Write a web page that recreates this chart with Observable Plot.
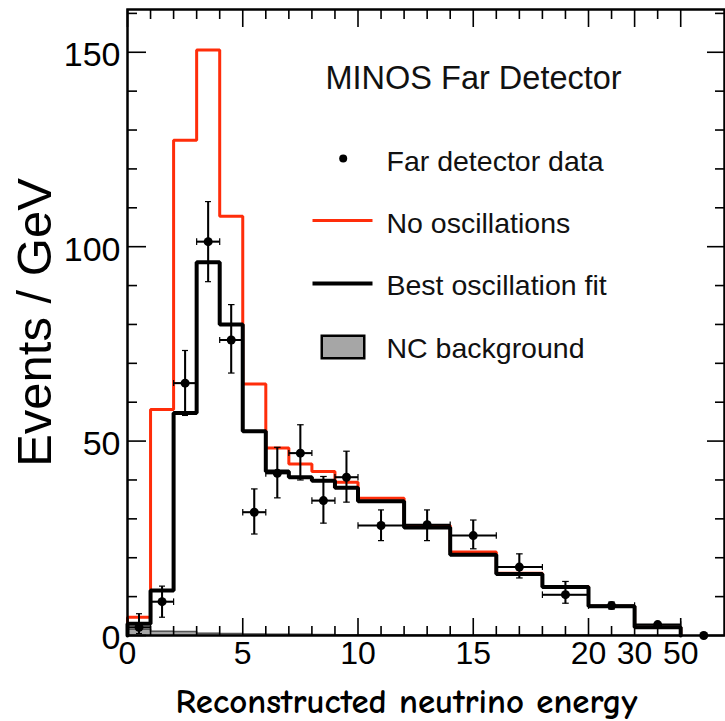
<!DOCTYPE html>
<html>
<head>
<meta charset="utf-8">
<script src="https://cdn.jsdelivr.net/npm/d3@7"></script>
<script src="https://cdn.jsdelivr.net/npm/@observablehq/plot@0.6"></script>
<style>
  html, body { margin: 0; padding: 0; background: #fff; }
  #chart { width: 725px; height: 721px; }
</style>
</head>
<body>
<div id="chart"></div>
<script>
// ---- Data ----
const binEdges = [0, 1, 2, 3, 4, 5, 6, 7, 8, 9, 10, 12, 14, 16, 18, 20, 30, 50]; // GeV
const noOscillations = [4.7, 58.1, 127.4, 150.6, 107.8, 64.7, 48.2, 44.1, 42.2, 39.4, 35.3, 28.3, 21.5, 16.0, 12.6, 7.5, 2.1];
const bestFit        = [3.0, 11.6, 57.2, 96.0, 80.0, 52.5, 42.2, 40.7, 39.8, 38.0, 34.5, 27.8, 20.8, 15.8, 12.5, 7.5, 2.1];
const ncBackground   = [1.6, 1.1, 1.0, 0.6, 0.5, 0.4, 0.3, 0.3, 0.25, 0.2, 0.2, 0.15, 0.1, 0.1, 0.1, 0.05, 0.02];

const dataLow     = [0, 1, 2, 3, 4, 5, 6, 7, 8, 9, 10, 12, 14, 16, 18, 20, 30, 50];
const dataHigh    = [1, 2, 3, 4, 5, 6, 7, 8, 9, 10, 12, 14, 16, 18, 20, 30, 50, 70];
const dataValues  = [2.1, 8.7, 64.9, 101.3, 76.0, 31.7, 41.7, 46.9, 34.7, 40.7, 28.3, 28.5, 25.7, 17.6, 10.5, 7.7, 2.8, 0];
const dataErrUp   = [3.5, 4.0, 8.4, 10.3, 9.1, 6.0, 6.7, 7.3, 6.2, 6.7, 4.0, 3.8, 4.0, 3.4, 3.4, 0.9, 0.5, 0];
const dataErrDown = [1.6, 4.0, 8.3, 10.3, 8.5, 5.6, 6.3, 6.9, 5.8, 6.4, 3.9, 4.1, 3.4, 2.8, 2.2, 0.9, 0.5, 0];

const xTickValues = [0, 5, 10, 15, 20, 30, 50];
const xMinorValues = [1,2,3,4,6,7,8,9,11,12,13,14,16,17,18,19,25,40];
const yTickValues = [0, 50, 100, 150];
const yMinorValues = [10,20,30,40,60,70,80,90,110,120,130,140,160];

const titleText = "MINOS Far Detector";
const legendLabels = ["Far detector data", "No oscillations", "Best oscillation fit", "NC background"];
const xTitle = "Reconstructed neutrino energy";
const yTitle = "Events / GeV";

// ---- Axis layout: linear up to 20 GeV, compressed above ----
const toDisp = d3.scaleLinear().domain([0, 20, 30, 50, 70]).range([0, 20, 22, 24, 26]);

function histPoints(values) {
  const n = values.length;
  const pts = [{x: toDisp(binEdges[0]), y: 0}];
  values.forEach((v, i) => pts.push({x: toDisp(binEdges[i]), y: v}));
  pts.push({x: toDisp(binEdges[n]), y: values[n - 1]});
  pts.push({x: toDisp(binEdges[n]), y: 0});
  return pts;
}

const points = dataValues.map((v, i) => ({
  lo: toDisp(dataLow[i]), hi: toDisp(dataHigh[i]),
  x: toDisp((dataLow[i] + dataHigh[i]) / 2),
  y: v, yUp: v + dataErrUp[i], yDown: v - dataErrDown[i],
  bars: dataErrUp[i] > 0
}));
const withBars = points.filter(d => d.bars);

const RED = "#ff2d0a";
const W = 725, H = 721, ML = 127, MR = 1, MT = 9, MB = 86;
const PW = W - ML - MR, PH = H - MT - MB;
const sans = "'Liberation Sans', Arial, Helvetica, sans-serif";

const chart = Plot.plot({
  width: W, height: H,
  marginLeft: ML, marginRight: MR, marginTop: MT, marginBottom: MB,
  x: {domain: [0, 25.9]},
  y: {domain: [0, 161]},
  style: {fontFamily: sans, background: "white", color: "black", overflow: "visible"},
  marks: [
    // NC background
    Plot.areaY(histPoints(ncBackground), {x: "x", y: "y", curve: "step-after", fill: "#a6a6a6"}),
    Plot.line(histPoints(ncBackground), {x: "x", y: "y", curve: "step-after", stroke: "#555", strokeWidth: 1.5, strokeLinejoin: "miter"}),
    // No oscillations
    Plot.line(histPoints(noOscillations), {x: "x", y: "y", curve: "step-after", stroke: RED, strokeWidth: 3, strokeLinejoin: "miter"}),
    // Best fit
    Plot.line(histPoints(bestFit), {x: "x", y: "y", curve: "step-after", stroke: "black", strokeWidth: 4, strokeLinejoin: "miter"}),
    // Error bars
    Plot.link(withBars, {x1: "x", x2: "x", y1: "yDown", y2: "yUp", stroke: "black", strokeWidth: 2}),
    Plot.link(withBars, {x1: "lo", x2: "hi", y1: "y", y2: "y", stroke: "black", strokeWidth: 2}),
    Plot.link(withBars, {x1: "x", x2: "x", y1: "yDown", y2: "yUp", stroke: "black", strokeWidth: 1.1, markerStart: "tick", markerEnd: "tick"}),
    Plot.link(withBars, {x1: "lo", x2: "hi", y1: "y", y2: "y", stroke: "black", strokeWidth: 1.1, markerStart: "tick", markerEnd: "tick"}),
    Plot.dot(points, {x: "x", y: "y", r: 4.5, fill: "black"}),
    // Frame
    Plot.frame({stroke: "black", strokeWidth: 2.5}),
    // Inward ticks: bottom/top
    Plot.ruleX(xTickValues.map(toDisp), {x: d => d, insetTop: PH - 17, strokeWidth: 1.6}),
    Plot.ruleX(xMinorValues.map(toDisp), {x: d => d, insetTop: PH - 9, strokeWidth: 1.6}),
    Plot.ruleX(xTickValues.map(toDisp), {x: d => d, insetBottom: PH - 18, strokeWidth: 1.6}),
    Plot.ruleX(xMinorValues.map(toDisp), {x: d => d, insetBottom: PH - 10, strokeWidth: 1.6}),
    // Inward ticks: left/right
    Plot.ruleY(yTickValues, {y: d => d, insetRight: PW - 19, strokeWidth: 1.6}),
    Plot.ruleY(yMinorValues, {y: d => d, insetRight: PW - 10, strokeWidth: 1.6}),
    Plot.ruleY(yTickValues, {y: d => d, insetLeft: PW - 17, strokeWidth: 1.6}),
    Plot.ruleY(yMinorValues, {y: d => d, insetLeft: PW - 9, strokeWidth: 1.6}),
    // Tick labels
    Plot.axisX({ticks: xTickValues.map(toDisp), tickFormat: d => String(Math.round(toDisp.invert(d))), tickSize: 0, tickPadding: 6, fontSize: 32, label: null}),
    Plot.axisY({ticks: yTickValues, tickSize: 0, tickPadding: 7, fontSize: 34, dy: 3, label: null}),
    // Axis titles
    Plot.text([yTitle], {frameAnchor: "left", dx: -92.5, rotate: -90, fontSize: 49, textAnchor: "middle", lineAnchor: "middle"}),
    Plot.text([xTitle], {frameAnchor: "bottom", dx: -19.5, dy: 66, fontSize: 35, fontWeight: "bold", textAnchor: "middle", lineAnchor: "middle", fontFamily: "'Comic Sans MS', 'Comic Neue', 'DejaVu Sans', sans-serif"}),
    // Legend
    Plot.text([titleText], {frameAnchor: "top-left", dx: 198, dy: 56, fontSize: 32.5, textAnchor: "start", lineAnchor: "top", fill: "#111"}),
    ...legendLabels.map((label, i) =>
      Plot.text([label], {frameAnchor: "top-left", dx: 259, dy: 141 + i * 62.3, fontSize: 28.5, textAnchor: "start", lineAnchor: "top", fill: "#111"})),
    Plot.dot([legendLabels[0]], {frameAnchor: "top-left", dx: 215.7, dy: 149, r: 4, fill: "black"}),
    Plot.frame({fill: RED, stroke: null, insetLeft: 185, insetRight: 352, insetTop: 209.5, insetBottom: 413.5}),
    Plot.frame({fill: "black", stroke: null, insetLeft: 185, insetRight: 352, insetTop: 272, insetBottom: 350}),
    Plot.frame({fill: "#a6a6a6", stroke: "black", strokeWidth: 2.5, insetLeft: 194.25, insetRight: 360.25, insetTop: 326.25, insetBottom: 277.25})
  ]
});

document.getElementById("chart").appendChild(chart);

// stretch the x title to the reference width
chart.querySelectorAll("text").forEach(t => {
  if (t.textContent === xTitle) {
    t.setAttribute("textLength", "462");
    t.setAttribute("lengthAdjust", "spacingAndGlyphs");
  }
});
</script>
</body>
</html>
